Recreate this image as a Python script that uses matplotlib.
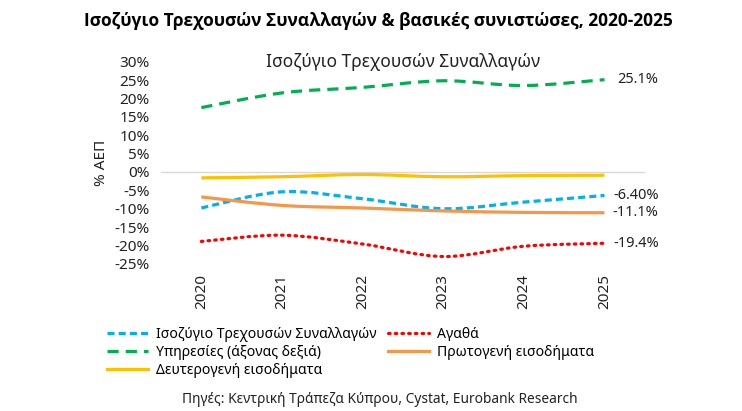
import numpy as np
import matplotlib.pyplot as plt
from matplotlib.path import Path
from matplotlib.patches import PathPatch
from matplotlib.lines import Line2D

plt.rcParams['font.family'] = ['Noto Sans', 'DejaVu Sans']

years = ['2020', '2021', '2022', '2023', '2024', '2025']
current_account = [-9.8, -5.4, -7.3, -10.0, -8.2, -6.4]
goods = [-18.9, -17.2, -19.6, -23.0, -20.2, -19.4]
services = [17.5, 21.5, 23.0, 24.8, 23.5, 25.1]
primary_income = [-6.8, -9.1, -9.8, -10.6, -11.0, -11.1]
secondary_income = [-1.6, -1.3, -0.7, -1.3, -1.0, -0.9]
end_labels = ['-6.40%', '-19.4%', '25.1%', '-11.1%', '']

names = ['Ισοζύγιο Τρεχουσών Συναλλαγών', 'Αγαθά', 'Υπηρεσίες (άξονας δεξιά)',
         'Πρωτογενή εισοδήματα', 'Δευτερογενή εισοδήματα']
series = [current_account, goods, services, primary_income, secondary_income]
colors = ['#00B0F0', '#FF0000', '#00B050', '#F79646', '#FFC000']
dotted = (0, (0.5, 1.6))
styles = [(0, (2.2, 1.3)), dotted, (0, (3.5, 2.2)), '-', '-']


def smooth_path(xs, ys):
    # Excel-like smoothed line: cubic bezier segments through the points
    p = np.column_stack([xs, ys]).astype(float)
    ext = np.vstack([p[0], p, p[-1]])
    verts = [p[0]]
    codes = [Path.MOVETO]
    for i in range(len(p) - 1):
        c1 = ext[i + 1] + (ext[i + 2] - ext[i]) / 6.0
        c2 = ext[i + 2] - (ext[i + 3] - ext[i + 1]) / 6.0
        verts += [c1, c2, ext[i + 2]]
        codes += [Path.CURVE4] * 3
    return Path(verts, codes)


fig = plt.figure(figsize=(7.42, 4.11), dpi=100)
ax = fig.add_axes([0.217, 0.358, 0.652, 0.492])

x = np.arange(len(years))
ax.axhline(0, color='#D9D9D9', linewidth=1.0, zorder=1)

handles = []
for vals, col, ls, name, lab in zip(series, colors, styles, names, end_labels):
    cap = 'round' if ls == dotted else 'butt'
    patch = PathPatch(smooth_path(x, vals), fill=False, edgecolor=col,
                      linewidth=2.3, linestyle=ls, capstyle=cap, zorder=3)
    ax.add_patch(patch)
    handles.append(Line2D([], [], color=col, linewidth=2.3, linestyle=ls,
                          dash_capstyle=cap, label=name))
    if lab:
        ax.annotate(lab, (x[-1], vals[-1]), xytext=(39, 0), textcoords='offset points',
                    va='center', ha='right', fontsize=10.5, color='#222222',
                    annotation_clip=False)

ax.set_xlim(-0.5, len(years) - 0.5)
ax.set_ylim(-25, 30)
ax.set_yticks(np.arange(-25, 31, 5))
ax.set_yticklabels([f'{v}%' for v in range(-25, 31, 5)])
ax.set_xticks(x)
ax.set_xticklabels(years, rotation=90)
ax.tick_params(length=0, labelsize=11, colors='#222222')
ax.tick_params(axis='y', pad=8)
ax.tick_params(axis='x', pad=7)
for s in ax.spines.values():
    s.set_visible(False)

ax.set_ylabel('% ΑΕΠ', fontsize=11, color='#222222', labelpad=4)
ax.text(0.5, 1.0, 'Ισοζύγιο Τρεχουσών Συναλλαγών', transform=ax.transAxes,
        ha='center', va='center', fontsize=12.5, color='#222222')

fig.text(0.51, 0.948, 'Ισοζύγιο Τρεχουσών Συναλλαγών & βασικές συνιστώσες, 2020-2025',
         ha='center', va='center', fontsize=12.5, fontweight='bold',
         family=['Open Sans', 'DejaVu Sans'])

order = [0, 2, 4, 1, 3]
fig.legend([handles[i] for i in order], [names[i] for i in order], ncol=2,
           loc='upper left', bbox_to_anchor=(0.137, 0.218), frameon=False,
           fontsize=10.1, handlelength=2.9, handletextpad=0.6,
           columnspacing=0.8, labelspacing=0.2, borderaxespad=0)

fig.text(0.512, 0.027, 'Πηγές: Κεντρική Τράπεζα Κύπρου, Cystat, Eurobank Research',
         ha='center', va='center', fontsize=9.9, color='#222222')

fig.savefig('out.png', dpi=100)
